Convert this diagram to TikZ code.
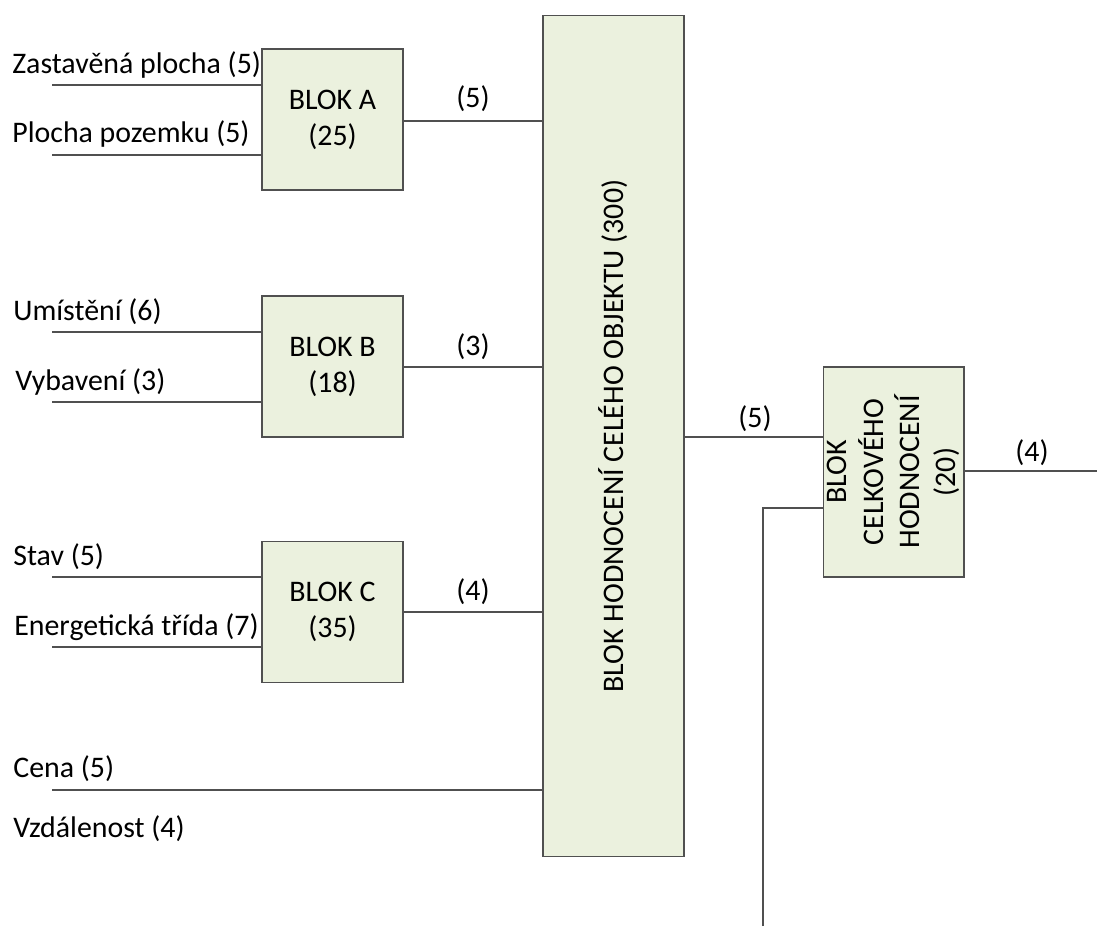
\documentclass[tikz,border=0pt]{standalone}
\usepackage{fontspec}
\setmainfont{Carlito}
\usetikzlibrary{
  chains,
  positioning,
  scopes
}
\definecolor{blockfill}{RGB}{235,241,222}
\definecolor{wiregray}{RGB}{80,80,80}

\begin{document}
\begin{tikzpicture}[x=0.02cm,y=-0.02cm,
      block/.style={
         rectangle,
         minimum width=2.82cm,
         minimum height=2.82cm,
         inner sep=0pt,
         line width=0.6pt,
         draw=wiregray,
         fill=blockfill,
         align=center,
         font=\fontsize{17}{20.6}\selectfont
      },
      txt/.style={
         anchor=base west,
         inner sep=0pt,
         font=\fontsize{17}{20.6}\selectfont
      },
      weight/.style={
         anchor=base,
         inner sep=0pt,
         font=\fontsize{17}{20.6}\selectfont
      },
      point/.style={coordinate},
      every join/.style={draw=wiregray,line width=0.6pt},
      hv path/.style={to path={-| (\tikztotarget)}},
      vh path/.style={to path={|- (\tikztotarget)}}
    ]
    \useasboundingbox (0,0) rectangle (1097,926);
    % bloky
    \node (blkA) [block] at (332.5,119.5) {BLOK A\\(25)};
    \node (blkB) [block] at (332.5,366.5) {BLOK B\\(18)};
    \node (blkC) [block] at (332.5,612) {BLOK C\\(35)};
    \node (blkObj) [block, minimum height=16.84cm] at (613.5,436) {};
    \node (tObj) [rotate=90, font=\fontsize{17}{20.6}\selectfont] at (blkObj.center)
       {BLOK HODNOCENÍ CELÉHO OBJEKTU (300)};
    \node (blkTot) [block, minimum height=4.2cm] at (893.5,472) {};
    \node (tTot) [rotate=90, align=center, font=\fontsize{17}{20.6}\selectfont] at (blkTot.center)
       {BLOK\\CELKOVÉHO\\HODNOCENÍ\\(20)};
    % vstupy
    \node (tZast) [txt] at (12,73) {Zastavěná plocha (5)};
    \node (tPloch) [txt] at (12,142) {Plocha pozemku (5)};
    \node (tUmis) [txt] at (13,320) {Umístění (6)};
    \node (tVyb) [txt] at (15,390) {Vybavení (3)};
    \node (tStav) [txt] at (13,565) {Stav (5)};
    \node (tEner) [txt] at (14,635) {Energetická třída (7)};
    \node (tCena) [txt] at (13,777) {Cena (5)};
    \node (tVzd) [txt] at (13,837) {Vzdálenost (4)};
    \node (tOutA) [weight] at (473,108) {(5)};
    \node (tOutB) [weight] at (473,355) {(3)};
    \node (tOutC) [weight] at (473,600) {(4)};
    \node (tOutObj) [weight] at (755,427) {(5)};
    \node (tOutTot) [weight] at (1032,461) {(4)};
    % body
    \node (n1) [point] at (52,85) {};
    \node (n2) [point] at (blkA.west |- n1) {};
    \node (n3) [point] at (52,155) {};
    \node (n4) [point] at (blkA.west |- n3) {};
    \node (n5) [point] at (52,332) {};
    \node (n6) [point] at (blkB.west |- n5) {};
    \node (n7) [point] at (52,402) {};
    \node (n8) [point] at (blkB.west |- n7) {};
    \node (n9) [point] at (52,577) {};
    \node (n10) [point] at (blkC.west |- n9) {};
    \node (n11) [point] at (52,647) {};
    \node (n12) [point] at (blkC.west |- n11) {};
    \node (n13) [point] at (52,790) {};
    \node (n14) [point] at (blkObj.west |- n13) {};
    \node (n15) [point] at (blkA.east |- 0,121) {};
    \node (n16) [point] at (blkObj.west |- n15) {};
    \node (n17) [point] at (blkB.east |- 0,367) {};
    \node (n18) [point] at (blkObj.west |- n17) {};
    \node (n19) [point] at (blkC.east |- 0,612) {};
    \node (n20) [point] at (blkObj.west |- n19) {};
    \node (n21) [point] at (blkObj.east |- 0,437) {};
    \node (n22) [point] at (blkTot.west |- n21) {};
    \node (n23) [point] at (763,926) {};
    \node (n24) [point] at (blkTot.west |- 0,508) {};
    \node (n25) [point] at (blkTot.east |- 0,471) {};
    \node (n26) [point] at (1097,471) {};
  { [start chain]
       \chainin (n1);
       \chainin (n2)    [join];
  }
  { [start chain]
       \chainin (n3);
       \chainin (n4)    [join];
  }
  { [start chain]
       \chainin (n5);
       \chainin (n6)    [join];
  }
  { [start chain]
       \chainin (n7);
       \chainin (n8)    [join];
  }
  { [start chain]
       \chainin (n9);
       \chainin (n10)    [join];
  }
  { [start chain]
       \chainin (n11);
       \chainin (n12)    [join];
  }
  { [start chain]
       \chainin (n13);
       \chainin (n14)    [join];
  }
  { [start chain]
       \chainin (n15);
       \chainin (n16)    [join];
  }
  { [start chain]
       \chainin (n17);
       \chainin (n18)    [join];
  }
  { [start chain]
       \chainin (n19);
       \chainin (n20)    [join];
  }
  { [start chain]
       \chainin (n21);
       \chainin (n22)    [join];
  }
  { [start chain]
       \chainin (n23);
       \chainin (n24)    [join=by {vh path}];
  }
  { [start chain]
       \chainin (n25);
       \chainin (n26)    [join];
  }
\end{tikzpicture}
\end{document}
